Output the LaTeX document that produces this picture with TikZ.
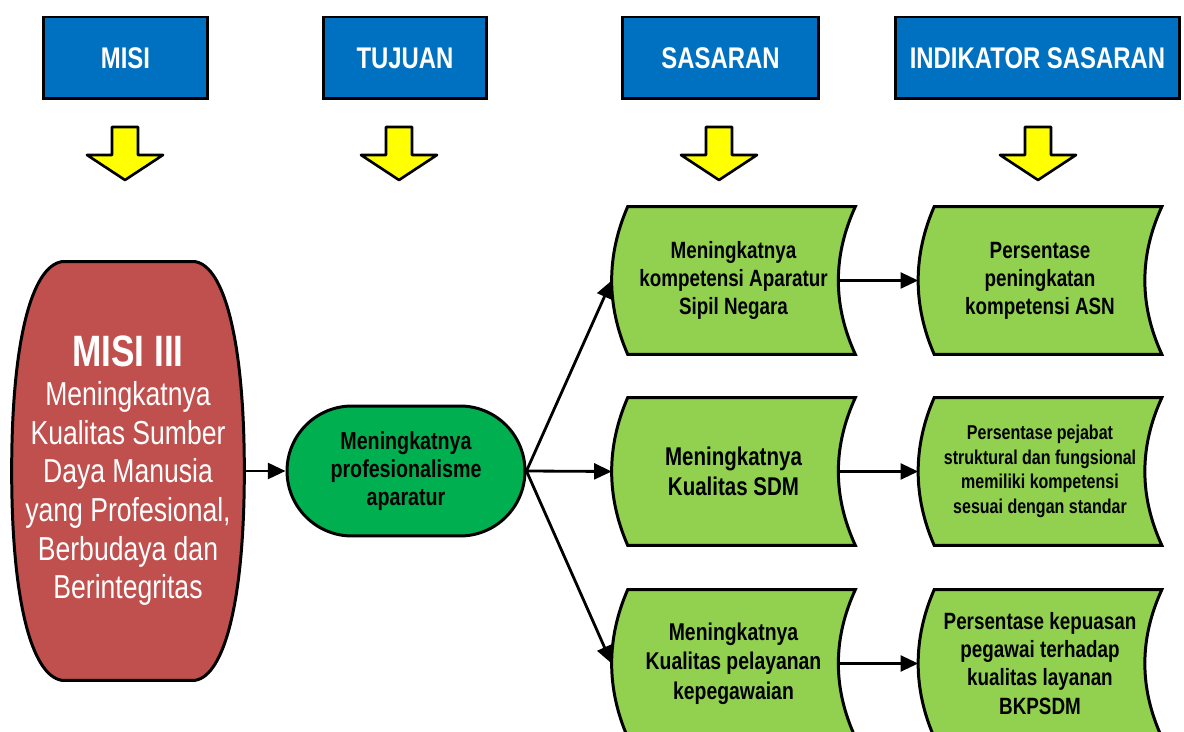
\documentclass[tikz,border=0pt]{standalone}
\usepackage{fontspec}
\setmainfont[FakeStretch=0.8]{Liberation Sans}
\usetikzlibrary{arrows.meta,backgrounds,calc}

\definecolor{headblue}{HTML}{0070C0}
\definecolor{arrowyellow}{HTML}{FFFF00}
\definecolor{misired}{HTML}{C0504D}
\definecolor{tujuangreen}{HTML}{00B050}
\definecolor{sasarangreen}{HTML}{92D050}

\tikzset{
  header/.style={draw,line width=1.7pt,fill=headblue,text=white,
    font=\fontsize{17}{20}\selectfont\bfseries,minimum height=1.64cm},
  datanode/.style={minimum width=4.86cm,minimum height=2.94cm,align=center,
    font=\fontsize{13.4}{16}\selectfont\bfseries},
  outline/.style={draw,line width=1.7pt},
  conn/.style={line width=1.6pt,-{Triangle[length=10pt,width=9pt]}},
  downarrow/.style={draw,line width=1.5pt,fill=arrowyellow,line join=round}
}

% stored-data outline round a node
\newcommand\datashape[2]{%
  \draw[outline,fill=#2] ([xshift=0.32cm]#1.north west) -- (#1.north east)
    .. controls ($(#1.north east)!0.333!(#1.south east)+(-0.453cm,0)$)
       and ($(#1.south east)!0.333!(#1.north east)+(-0.453cm,0)$) .. (#1.south east)
    -- ([xshift=0.32cm]#1.south west)
    .. controls ($(#1.south west)!0.333!(#1.north west)+(-0.107cm,0)$)
       and ($(#1.north west)!0.333!(#1.south west)+(-0.107cm,0)$) .. ([xshift=0.32cm]#1.north west) -- cycle;
}

\begin{document}
\begin{tikzpicture}[x=0.02cm,y=-0.02cm]
    \useasboundingbox (0,0) rectangle (1184,732);

    % headers
    \node[header,minimum width=3.3cm] (hmisi) at (125.5,58) {MISI};
    \node[header,minimum width=3.28cm] (htujuan) at (405,58) {TUJUAN};
    \node[header,minimum width=3.94cm] (hsasaran) at (720.5,58) {SASARAN};
    \node[header,minimum width=5.7cm] (hindikator) at (1037.5,58) {INDIKATOR SASARAN};

    \foreach \x in {125,399,719,1038}
        \draw[downarrow] (\x-13,127) -- (\x+13,127) -- (\x+13,155) -- (\x+38,155)
            -- (\x,180) -- (\x-38,155) -- (\x-13,155) -- cycle;

    % misi
    \node[minimum width=4.64cm,minimum height=8.36cm,align=center,text=white,
        font=\fontsize{18.9}{22}\selectfont] (misi) at (128,471)
        {{\fontsize{25}{30}\selectfont\bfseries MISI III}\\Meningkatnya\\Kualitas Sumber\\Daya Manusia\\yang Profesional,\\Berbudaya dan\\Berintegritas};

    % tujuan
    \node[outline,fill=tujuangreen,rounded corners=1.3cm,minimum width=4.76cm,
        minimum height=2.6cm,align=center,font=\fontsize{14}{16}\selectfont\bfseries]
        (tujuan) at (406,471) {Meningkatnya\\profesionalisme\\aparatur};

    % sasaran
    \node[datanode] (sas1) at (733.5,280.5) {Meningkatnya\\kompetensi Aparatur\\Sipil Negara};
    \node[datanode,font=\fontsize{14.6}{17}\selectfont\bfseries] (sas2) at (733.5,471.5) {Meningkatnya\\Kualitas SDM};
    \node[datanode,font=\fontsize{13.8}{16.8}\selectfont\bfseries] (sas3) at (733.5,663.5) {Meningkatnya\\Kualitas pelayanan\\kepegawaian};

    % indikator
    \node[datanode] (ind1) at (1040,280.5) {Persentase\\peningkatan\\kompetensi ASN};
    \node[datanode,font=\fontsize{11.4}{14}\selectfont\bfseries] (ind2) at (1040,471.5)
        {Persentase pejabat\\struktural dan fungsional\\memiliki kompetensi\\sesuai dengan standar};
    \node[datanode] (ind3) at (1040,663.5) {Persentase kepuasan\\pegawai terhadap\\kualitas layanan\\BKPSDM};

    \begin{scope}[on background layer]
        \draw[outline,fill=misired] ($(misi.north west)+(50,0)$) -- ($(misi.north east)+(-49,0)$)
            .. controls ($(misi.north east)+(-20,5)$) and ($(misi.east)+(0,-130)$) .. (misi.east)
            .. controls ($(misi.east)+(0,130)$) and ($(misi.south east)+(-20,-5)$) .. ($(misi.south east)+(-49,0)$)
            -- ($(misi.south west)+(50,0)$)
            .. controls ($(misi.south west)+(20,-5)$) and ($(misi.west)+(0,130)$) .. (misi.west)
            .. controls ($(misi.west)+(0,-130)$) and ($(misi.north west)+(20,5)$) .. ($(misi.north west)+(50,0)$) -- cycle;
        \datashape{sas1}{sasarangreen}
        \datashape{sas2}{sasarangreen}
        \datashape{sas3}{sasarangreen}
        \datashape{ind1}{sasarangreen}
        \datashape{ind2}{sasarangreen}
        \datashape{ind3}{sasarangreen}
    \end{scope}

    \draw[conn] (misi.east) -- (tujuan.west);
    \draw[conn] (tujuan.east) -- (sas1.west);
    \draw[conn] (tujuan.east) -- (sas2.west);
    \draw[conn] (tujuan.east) -- (sas3.west);
    \draw[conn] ([xshift=-0.34cm]sas1.east) -- (ind1.west);
    \draw[conn] ([xshift=-0.34cm]sas2.east) -- (ind2.west);
    \draw[conn] ([xshift=-0.34cm]sas3.east) -- (ind3.west);
\end{tikzpicture}
\end{document}
